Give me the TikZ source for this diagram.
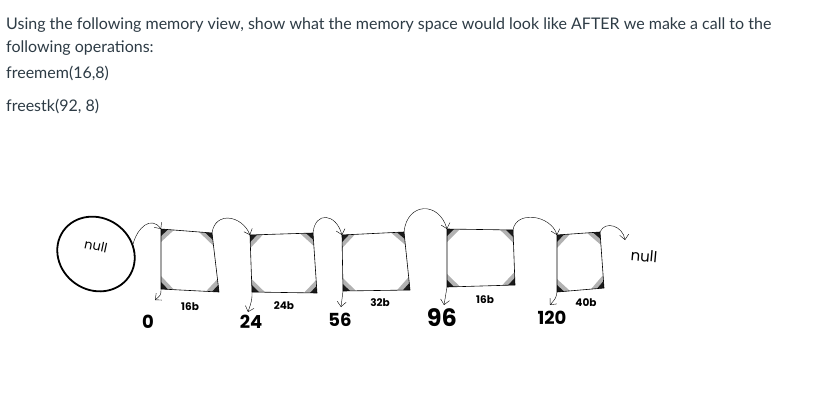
\documentclass[tikz,border=0pt]{standalone}
\usepackage{fontspec}
\setmainfont{Lato}
\newfontfamily\handfont{Poppins}
\usetikzlibrary{arrows.meta,calc,shapes.geometric}
\tikzset{>={Straight Barb[length=5pt,width=9pt]}}
\definecolor{inktext}{RGB}{45,59,69}
\tikzset{
  prose/.style={anchor=base west,inner sep=0pt,text=inktext,font=\fontsize{16}{19}\selectfont},
  cellline/.style={semithick,line join=round},
  link/.style={thin,->},
  addr/.style={inner sep=0pt,font=\handfont\bfseries\fontsize{18}{18}\selectfont},
  size/.style={inner sep=0pt,font=\handfont\bfseries\fontsize{10.5}{10.5}\selectfont}
}
% one memory cell: name, tl, tr, br, bl
\newcommand{\memcell}[5]{%
  \coordinate (#1-tl) at (#2);
  \coordinate (#1-tr) at (#3);
  \coordinate (#1-br) at (#4);
  \coordinate (#1-bl) at (#5);
  \foreach \c/\a/\b in {tl/tr/bl,tr/br/tl,br/bl/tr,bl/tl/br}{
    \fill[black,opacity=.3] (#1-\c) -- ($(#1-\c)!13pt!(#1-\a)$) -- ($(#1-\c)!13pt!(#1-\b)$) -- cycle;
    \fill[black,opacity=.85] (#1-\c) -- ($(#1-\c)!7pt!(#1-\a)$) -- ($(#1-\c)!7pt!(#1-\b)$) -- cycle;
  }
  \draw[cellline] (#1-tl) -- (#1-tr) -- (#1-br) -- (#1-bl) -- cycle;
}

\begin{document}
\begin{tikzpicture}[x=1pt,y=-1pt]
  \useasboundingbox (0,0) rectangle (813,410);
  % question
  \node[prose] (q1) at (6,29) {Using the following memory view, show what the memory space would look like AFTER we make a call to the};
  \node[prose] (q2) at (6,52) {following operations:};
  \node[prose] (q3) at (6,78) {freemem(16,8)};
  \node[prose] (q4) at (6,111) {freestk(92, 8)};

  % list head
  \node[draw,ellipse,line width=1.8pt,minimum width=80,minimum height=72,rotate=-35] (head) at (96,254) {};
  \node[rotate=-12,font=\handfont\fontsize{13}{13}\selectfont] (headtxt) at (96,246) {null};

  % cells
  \memcell{b1}{161,229}{212,233}{219,292}{161,289}
  \memcell{b2}{250,235}{313,233}{317,293}{252,292}
  \memcell{b3}{342,235}{404,232}{410,290}{343,291}
  \memcell{b4}{447,229}{513,230}{515,285}{447,287}
  \memcell{b5}{557,235}{600,232}{604,288}{557,292}

  % next links
  \draw[link] (head.50) .. controls +(4,-16) and +(-10,-14) .. (b1-tl);
  \draw[link] (b1-tr) .. controls +(3,-22) and +(-8,-20) .. (b2-tl);
  \draw[link] (b2-tr) .. controls +(2,-22) and +(-6,-22) .. (b3-tl);
  \draw[link] (b3-tr) .. controls +(3,-30) and +(-8,-28) .. (b4-tl);
  \draw[link] (b4-tr) .. controls +(3,-20) and +(-6,-20) .. (b5-tl);
  \coordinate (tail) at (625,240);
  \draw[link] (b5-tr) .. controls +(5,-12) and +(-2,-14) .. (tail);
  \node[font=\handfont\fontsize{15}{15}\selectfont,rotate=-5] (nulltxt) at (644,256) {null};

  % addresses and sizes
  \coordinate (p0) at (155,300);
  \coordinate (p24) at (248,312);
  \coordinate (p56) at (341,307);
  \coordinate (p96) at (444,305);
  \coordinate (p120) at (550,305);
  \draw[link] (b1-bl) .. controls +(0,6) .. (p0);
  \draw[link] (b2-bl) .. controls +(0,8) .. (p24);
  \draw[link] (b3-bl) .. controls +(-1,8) .. (p56);
  \draw[link] (b4-bl) .. controls +(-1,8) .. (p96);
  \draw[link] (b5-bl) .. controls +(-1,6) .. (p120);
  \node[addr] (a0) at (148,322) {0};
  \node[addr] (a24) at (251,322) {24};
  \node[addr] (a56) at (340,320) {56};
  \node[addr,font=\handfont\bfseries\fontsize{24}{24}\selectfont] (a96) at (442,318) {96};
  \node[addr] (a120) at (552,318) {120};
  \node[size] (s1) at (190,307) {16b};
  \node[size] (s2) at (284,306) {24b};
  \node[size] (s3) at (380,303) {32b};
  \node[size] (s4) at (485,300) {16b};
  \node[size] (s5) at (586,303) {40b};
\end{tikzpicture}
\end{document}
